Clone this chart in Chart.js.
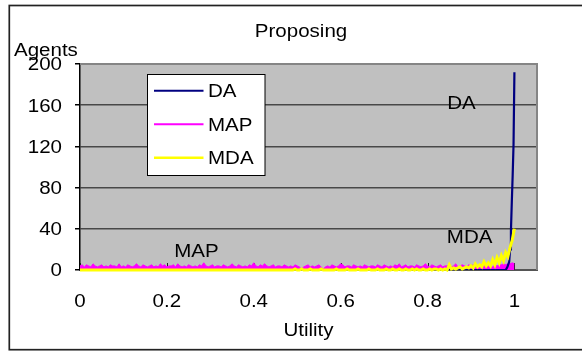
<!DOCTYPE html>
<html>
<head>
<meta charset="utf-8">
<script src="https://cdn.jsdelivr.net/npm/chart.js@4"></script>
<style>
  html, body { margin: 0; padding: 0; background: #fff; }
  #wrap { width: 582px; height: 351px; }
</style>
</head>
<body>
<div id="wrap"><canvas id="c" width="582" height="351"></canvas></div>
<script>
// Texts
const chartTitle = 'Proposing';
const xTitle = 'Utility';
const yTitle = 'Agents';

// Axis ticks
const xTicks = [0, 0.2, 0.4, 0.6, 0.8, 1];
const yTicks = [0, 40, 80, 120, 160, 200];

// Utility bins for MAP / MDA (0 .. 1 in steps of 0.005)
const binStep = 0.005;

// Agents per utility bin, MAP
const mapAgents = [
  4,5,3,5,4,3,6,4,3,4,5,3,4,3,5,4,4,3,6,3,
  4,3,5,4,3,4,6,4,3,5,4,3,4,5,3,4,3,6,4,5,
  3,4,4,5,3,6,4,3,4,3,5,4,3,4,3,5,4,7,4,3,
  4,5,3,4,4,3,5,4,3,4,6,4,3,5,4,3,4,3,5,4,
  7,4,3,5,4,6,4,3,4,5,3,4,4,3,5,4,3,4,3,5,
  4,3,1,3,4,5,3,4,3,4,5,3,1,3,4,3,5,4,3,4,
  6,5,3,4,4,3,5,4,3,4,3,5,4,3,4,4,3,5,4,3,
  5,4,3,4,3,5,4,6,3,4,5,3,4,4,3,5,4,3,4,6,
  4,3,5,4,3,4,5,3,4,4,5,3,4,6,3,4,5,4,3,5,
  4,5,4,3,5,4,6,4,5,4,3,5,4,5,5,6,5,6,6,7,
  6
];

// Agents per utility bin, MDA
const mdaAgents = [
  0,0,0,0,0,0,0,0,0,0,0,0,0,0,0,0,0,0,0,0,
  0,0,0,0,0,0,0,0,0,0,0,0,0,0,0,0,0,0,0,0,
  0,0,0,0,0,0,0,0,0,0,0,0,0,0,0,0,0,0,0,0,
  0,0,0,0,0,0,0,0,0,0,0,0,0,0,0,0,0,0,0,0,
  0,0,0,0,0,0,0,0,0,0,0,0,0,0,0,0,0,0,0,1,
  0,0,1,0,0,0,1,0,0,0,0,1,0,0,0,0,0,0,1,0,
  0,0,0,1,0,0,0,0,1,0,0,0,0,1,0,0,0,1,0,0,
  0,1,0,0,1,0,0,1,0,0,1,0,0,1,0,1,0,0,1,0,
  0,1,0,1,1,0,1,0,1,0,5,1,2,1,2,3,1,2,3,2,
  4,2,6,3,5,3,8,4,7,4,10,5,12,7,14,9,17,13,22,29,
  40
];

// DA: flat at zero, then a sharp peak right below utility 1
const daUtility = [0, 0.98, 0.984, 0.988, 0.990, 0.992, 0.994, 0.996, 0.998, 1.0];
const daAgents  = [0, 0,    3,     8,     20,    38,    66,    92,    122,   192];

// Series labels placed inside the plot
const seriesNotes = [
  { text: 'DA',  x: 0.878, y: 163 },
  { text: 'MDA', x: 0.897, y: 32 },
  { text: 'MAP', x: 0.268, y: 19 }
];

const binned = arr => arr.map((v, i) => ({ x: +(i * binStep).toFixed(3), y: v }));

const FONT_PX = 18;
const FONT = FONT_PX + 'px "Liberation Sans", Arial, sans-serif';
const SX = 1.14; // horizontal text stretch

// draws text whose capital letters are vertically centred on y
function txt(ctx, str, x, y, align) {
  ctx.save();
  ctx.translate(x, y + FONT_PX * 0.358);
  ctx.scale(SX, 1);
  ctx.font = FONT;
  ctx.fillStyle = '#000';
  ctx.textAlign = align;
  ctx.textBaseline = 'alphabetic';
  ctx.fillText(str, 0, 0);
  ctx.restore();
}

const framePlugin = {
  id: 'frame',
  beforeDraw(chart) {
    const { ctx, chartArea: a } = chart;
    ctx.save();
    ctx.fillStyle = '#fff';
    ctx.fillRect(0, 0, chart.width, chart.height);
    ctx.fillStyle = '#c0c0c0';
    ctx.fillRect(a.left, a.top, a.right - a.left, a.bottom - a.top);
    ctx.restore();
  },
  beforeDatasetsDraw(chart) {
    const { ctx, chartArea: a, scales } = chart;
    ctx.save();
    // plot-area border, top and right
    ctx.strokeStyle = '#858585';
    ctx.lineWidth = 2;
    ctx.beginPath();
    ctx.moveTo(a.left, a.top);
    ctx.lineTo(a.right, a.top);
    ctx.lineTo(a.right, a.bottom);
    ctx.stroke();
    // inner tick marks on the x axis
    ctx.strokeStyle = '#222';
    ctx.lineWidth = 1;
    xTicks.forEach(v => {
      const px = Math.round(scales.x.getPixelForValue(v)) + 0.5;
      ctx.beginPath();
      ctx.moveTo(px, a.bottom);
      ctx.lineTo(px, a.bottom - 7);
      ctx.stroke();
    });
    ctx.restore();
  },
  afterDraw(chart) {
    const { ctx, scales } = chart;
    ctx.save();
    // outer frame
    ctx.strokeStyle = '#222';
    ctx.lineWidth = 1.7;
    ctx.strokeRect(9.3, 5.5, 620, 344.2);

    // titles
    txt(ctx, chartTitle, 301, 31, 'center');
    txt(ctx, yTitle, 14, 50, 'left');
    txt(ctx, xTitle, 308.5, 329.5, 'center');

    // tick labels
    xTicks.forEach(v => txt(ctx, String(v), scales.x.getPixelForValue(v), 300.5, 'center'));
    yTicks.forEach(v => txt(ctx, String(v), 62, scales.y.getPixelForValue(v), 'right'));

    // series notes
    seriesNotes.forEach(n => txt(ctx, n.text, scales.x.getPixelForValue(n.x), scales.y.getPixelForValue(n.y), 'center'));

    // legend
    const lx = 147.5, ly = 74.5, lw = 117.5, lh = 101;
    ctx.fillStyle = '#fff';
    ctx.fillRect(lx, ly, lw, lh);
    ctx.strokeStyle = '#000';
    ctx.lineWidth = 1;
    ctx.strokeRect(lx, ly, lw, lh);
    const rows = [90.7, 124.3, 157.7];
    chart.data.datasets.forEach((ds, i) => {
      ctx.strokeStyle = ds.borderColor;
      ctx.lineWidth = ds.legendWidth;
      ctx.beginPath();
      ctx.moveTo(154, rows[i]);
      ctx.lineTo(203.5, rows[i]);
      ctx.stroke();
      txt(ctx, ds.label, 208, rows[i], 'left');
    });
    ctx.restore();
  }
};

new Chart(document.getElementById('c'), {
  type: 'line',
  data: {
    datasets: [
      {
        label: 'DA',
        data: daUtility.map((u, i) => ({ x: u, y: daAgents[i] })),
        borderColor: '#000080',
        borderWidth: 2.2,
        legendWidth: 2,
        order: 1
      },
      {
        label: 'MAP',
        data: binned(mapAgents),
        borderColor: '#ff00ff',
        backgroundColor: '#ff00ff',
        borderWidth: 1,
        fill: 'origin',
        legendWidth: 2,
        order: 2
      },
      {
        label: 'MDA',
        data: binned(mdaAgents),
        borderColor: '#ffff00',
        borderWidth: 3,
        legendWidth: 2.5,
        clip: 4,
        order: 0
      }
    ]
  },
  options: {
    responsive: false,
    animation: false,
    layout: { padding: { left: 0, top: 64, right: 45, bottom: 0 } },
    plugins: {
      legend: { display: false },
      title: { display: false },
      tooltip: { enabled: false }
    },
    elements: {
      point: { radius: 0 },
      line: { tension: 0 }
    },
    scales: {
      x: {
        type: 'linear',
        min: 0,
        max: 1.052,
        afterBuildTicks: s => { s.ticks = xTicks.map(v => ({ value: v })); },
        afterFit: s => { s.height = 81; },
        ticks: { display: false },
        grid: { display: false },
        border: { display: true, color: '#555', width: 2 }
      },
      y: {
        type: 'linear',
        min: 0,
        max: 200,
        afterBuildTicks: s => { s.ticks = yTicks.map(v => ({ value: v })); },
        afterFit: s => { s.width = 80; },
        ticks: { display: false },
        grid: {
          color: c => (c.tick && c.tick.value === 200) ? 'rgba(0,0,0,0)' : '#484848',
          lineWidth: 1.5,
          drawTicks: true,
          tickLength: 5,
          tickColor: '#000'
        },
        border: { display: true, color: '#000', width: 1.5 }
      }
    }
  },
  plugins: [framePlugin]
});
</script>
</body>
</html>
